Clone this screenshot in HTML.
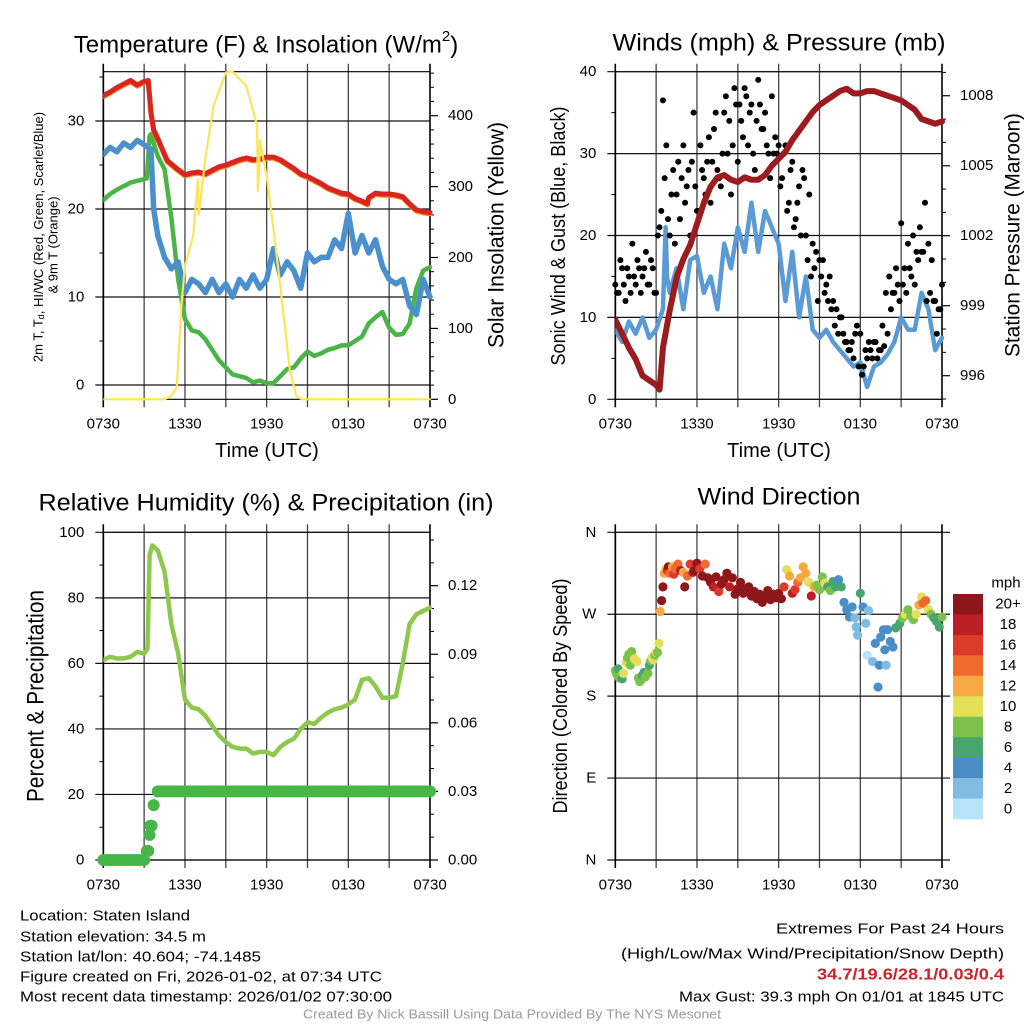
<!DOCTYPE html>
<html><head><meta charset="utf-8">
<style>
html,body{margin:0;padding:0;background:#fff;}
svg{display:block;font-family:"Liberation Sans",Arial,sans-serif;}
</style></head>
<body>
<svg id="fig" width="1024" height="1024" viewBox="0 0 1024 1024"></svg>
<script>
// ---------- DATA (hours since 0730 UTC) ----------
const timeTickHours = [0,3,6,9,12,15,18,21,24];
const timeTickLabels = ['0730','','1330','','1930','','0130','','0730'];

const tempT = [0,0.5,1,1.5,2,2.5,3,3.3,3.5,3.7,4,4.2,4.7,5.4,6,6.5,7,7.5,8,8.5,9,9.5,10,10.5,11,11.5,12,12.5,13,13.5,14,14.5,15,15.5,16,16.5,17,17.5,18,18.5,19,19.4,19.5,20,20.5,21,21.5,22,22.5,23,23.5,24];
const tempV = [32.9,33.3,33.8,34.2,34.6,34.1,34.5,34.6,31,29,28,27.3,25.5,24.6,23.9,24.1,24.2,24,24.4,24.8,25,25.3,25.6,25.8,25.6,25.7,25.9,25.9,25.6,25.1,24.6,24.0,23.7,23.3,22.9,22.4,22.1,21.8,21.7,21.2,20.9,20.6,21.3,21.8,21.7,21.7,21.6,21.4,20.6,19.9,19.7,19.6];

const dewT = [0,0.5,1,1.5,2,2.5,3,3.2,3.4,3.5,4,4.5,5,5.5,6,6.5,7,7.5,8,8.5,9,9.5,10,10.5,11,11.5,12,12.5,13,13.5,14,14.5,15,15.5,16,16.5,17,17.5,18,18.5,19,19.5,20,20.5,21,21.5,22,22.5,23,23.5,24];
const dewV = [21,21.7,22.2,22.6,23,23.2,23.4,23.5,28.3,28.5,26,24.5,19,12,7.5,6.2,6,5.2,4,2.8,2,1.2,1,0.8,0.3,0.5,0.2,0.2,1,1.8,2,3,3.8,3.3,3.6,4,4.2,4.5,4.5,5,5.5,7,7.7,8.3,6.5,5.7,5.8,7,11,13,13.4];

const wcT = [0,0.5,1,1.5,2,2.5,3,3.5,3.7,4,4.5,5,5.5,6,6.5,7,7.5,8,8.5,9,9.5,10,10.5,11,11.5,12,12.5,13,13.5,14,14.5,15,15.5,16,16.5,17,17.5,18,18.5,19,19.5,20,20.5,21,21.5,22,22.5,23,23.5,24];
const wcV = [26.2,27,26.5,27.5,27,27.8,27.3,26.8,20,17,14.5,13.2,14,10.5,12,11.5,10.5,12,10.5,11.5,10,12,11,12.5,11,12,15.5,12.5,14,13,11,15,14,14.5,14.5,16.5,15.5,19.5,15,17,15,16.5,13.5,12,11.5,12,9,8,12,10];

const solT = [0,4.5,5,5.4,5.75,6,6.6,6.95,7.0,7.05,7.5,8.1,9,9.5,10,10.5,11.3,11.35,11.45,11.5,12,12.5,13,13.7,14.2,14.6,24];
const solV = [0,0,5,18,136,188,230,310,260,265,340,414,461,462,452,442,386,294,320,365,315,240,160,41,4,0,0];

const windT = [0,0.5,1,1.5,2,2.5,3,3.5,3.7,3.8,4,4.5,5,5.5,6,6.5,7,7.5,8,8.5,9,9.5,10,10.5,11,11.5,12,12.5,13,13.5,14,14.5,15,15.5,16,16.5,17,17.5,18,18.5,19,19.5,20,20.5,21,21.5,22,22.5,23,23.5,24];
const windV = [8.5,7,9.5,8,10,7.5,8.5,11,21,15,13,16,11,17,17.5,13,15,11,19,16,21,18,24,18,23,21,19,12,18,10,15,8.5,7.5,8.5,7,6,5,4,4.5,1.5,4,4.5,5.5,7,10,8.5,8.5,13,11,6,7.5];

const gustA = [14,13,16,12,15,19,14,16,15,18,14,16,13,
 21,36.5,31,20,28,25,22,31,26,20,35,23,
 31,27,29,24,33,28,26,35,30,25,38,29,
 34,38,31,36,28,39,33,35,30,37,32,31,
 27,31,24,29,22,26,28,20,25,19,18,17,
 17,14,15,12,11,10,8,7,6,5,9,8,
 4,5,6,7,5,6,6.5,8,11,13,14,21.5,
 16,19,15,14,17,18,24,19,17,12,11,14];
const gustB = [13,17,14,16,13,15,17,13,16,14,17,13,
 20,23,27,22,25,19,29,27,24,28,29,26,
 23,28,25,32,29,35,27,30,37,34,31,36,
 36,32,37,35,30,34,36,33,31,27,30,30,
 26,30,23,28,21,24,20,27,17,15,16,12,
 15,13,12,11,9,8,10,7,6,7,8,4,
 3,6,7,5,7,6,9,13,15,13,16,12,
 14,13,16,20,18,21,18,12,13,12,8,11];

const presT = [0,0.5,1,1.5,2,2.5,3,3.25,3.5,4,4.5,5,5.5,6,6.5,7,7.5,8,8.5,9,9.5,10,10.5,11,11.5,12,12.5,13,13.5,14,14.5,15,15.5,16,16.5,17,17.5,18,18.5,19,19.5,20,20.5,21,21.5,22,22.5,23,23.5,24];
const presV = [998.4,997.8,997.2,996.7,996.0,995.8,995.6,995.4,997.2,998.8,1000.2,1001.0,1001.6,1002.5,1003.4,1004.1,1004.5,1004.6,1004.4,1004.3,1004.5,1004.4,1004.4,1004.6,1005.0,1005.3,1005.6,1006.1,1006.5,1006.9,1007.3,1007.6,1007.8,1008.0,1008.2,1008.3,1008.1,1008.1,1008.2,1008.2,1008.1,1008.0,1007.9,1007.8,1007.6,1007.4,1007.0,1006.9,1006.8,1006.9];

const rhT = [0,0.5,1,1.5,2,2.5,3,3.25,3.4,3.6,4,4.5,5,5.5,6,6.5,7,7.5,8,8.5,9,9.5,10,10.5,11,11.5,12,12.5,13,13.5,14,14.5,15,15.5,16,16.5,17,17.5,18,18.5,19,19.5,20,20.5,21,21.5,22,22.5,23,23.5,24];
const rhV = [61,62,61.5,61.5,62,63.5,63,64.5,93,96,94.5,88,72,63,49,46.5,46,44,41,38,36,34.5,34,34,32.5,33,33,32,34.5,36,37,40,42,41.5,43.5,45,46,46.5,47.5,49,55,55.5,53,49.5,49.5,50,60,72,75,76,77];

const precipT = [...Array.from({length:13},(_, i)=>i*0.25),3.2,3.3,3.4,3.45,3.55,3.7,...Array.from({length:81},(_, i)=>4+i*0.25)];
const precipV = [0,0,0,0,0,0,0,0,0,0,0,0,0,
 0.004,0.004,0.011,0.015,0.015,0.024,
 0.03,0.03,0.03,0.03,0.03,0.03,0.03,0.03,0.03,0.03,0.03,0.03,0.03,0.03,0.03,0.03,0.03,0.03,0.03,0.03,
 0.03,0.03,0.03,0.03,0.03,0.03,0.03,0.03,0.03,0.03,0.03,0.03,0.03,0.03,0.03,0.03,0.03,0.03,0.03,0.03,
 0.03,0.03,0.03,0.03,0.03,0.03,0.03,0.03,0.03,0.03,0.03,0.03,0.03,0.03,0.03,0.03,0.03,0.03,0.03,0.03,
 0.03,0.03,0.03,0.03,0.03,0.03,0.03,0.03,0.03,0.03,0.03,0.03,0.03,0.03,0.03,0.03,0.03,0.03,0.03,0.03,0.03];

const dirT = [0,0.1,0.2,0.3,0.4,0.5,0.6,0.8,0.9,1.0,1.1,1.2,1.3,1.4,1.6,1.7,1.8,1.9,2.0,2.1,2.2,2.4,2.5,2.6,2.7,2.8,2.9,3.0,
 3.1,3.2,3.3,3.4,3.5,3.6,3.7,3.8,3.9,4.0,4.2,4.3,4.4,4.6,4.8,5.0,5.1,5.3,5.5,5.7,5.8,6.0,
 6.2,6.4,6.6,6.8,7.0,7.2,7.4,7.6,7.8,8.0,8.2,8.4,8.6,8.8,9.0,9.2,9.4,9.6,9.8,10.0,10.2,10.4,10.6,10.8,11.0,11.2,11.4,11.6,11.8,12.0,
 12.2,12.4,12.6,12.8,13.0,13.2,13.4,13.6,13.8,14.0,14.2,14.4,
 14.6,14.8,15.0,15.2,15.4,15.6,15.8,16.0,16.2,
 16.4,16.6,16.8,17.0,17.2,17.4,17.6,17.7,17.8,18.0,18.2,18.4,18.6,
 18.5,18.9,19.1,19.3,19.4,19.5,19.7,19.8,19.9,20.0,20.2,20.4,20.6,20.9,
 21.1,21.3,21.5,21.7,21.9,22.1,22.3,22.5,22.6,22.8,23.0,23.2,23.4,23.6,23.8,24.0];
const dirV = [208,204,210,200,203,199,205,217,222,226,214,229,219,221,218,200,196,198,203,206,201,205,214,219,222,220,225,228,
 228,238,273,285,300,315,320,318,322,315,322,314,320,325,318,316,300,312,325,316,318,326,
 320,312,325,310,305,300,311,295,303,308,315,300,310,292,298,305,293,298,300,290,295,287,292,283,290,296,286,292,288,293,
 287,300,319,312,293,297,305,310,322,315,305,290,
 300,302,297,311,304,300,296,306,300,
 308,300,283,275,267,278,266,256,247,293,278,260,274,
 225,218,238,190,214,245,253,231,214,253,240,234,255,260,
 266,270,275,268,264,270,280,289,282,285,275,270,266,262,256,267];
const dirS = [8,7,6,8,8,6,10,10,8,8,8,8,7,9,10,8,8,8,6,6,8,8,6,8,10,10,8,9,
 8,9,12,20,20,12,10,16,20,14,12,16,14,14,18,12,20,14,16,18,20,20,
 16,20,14,20,20,18,20,16,20,20,20,18,20,22,20,20,20,20,20,20,20,20,20,22,20,20,20,20,20,20,
 20,16,10,12,18,16,14,12,12,12,10,18,
 12,8,8,8,10,6,8,6,6,
 4,6,4,4,4,4,2,2,2,6,4,2,2,
 0,2,4,4,4,4,4,4,2,4,4,4,6,6,
 8,10,8,8,8,10,12,10,14,14,10,8,6,6,6,8];

const speedBins = [0,2,4,6,8,10,12,14,16,18,20];
const speedLabels = ['0','2','4','6','8','10','12','14','16','18','20+'];
const speedColors = ['#b5e3f8','#80bbe4','#4b8ec6','#48a570','#7cc14c','#e3df56','#f5a843','#ee6a2e','#dc3a2a','#bb1e25','#8f161a'];

// ---------- helpers ----------
const NS='http://www.w3.org/2000/svg';
const svg=document.getElementById('fig');
function mk(tag,parent){const e=document.createElementNS(NS,tag);parent.appendChild(e);return e;}
function line(p,x1,y1,x2,y2,stroke,w){const l=mk('line',p);l.setAttribute('x1',x1);l.setAttribute('y1',y1);l.setAttribute('x2',x2);l.setAttribute('y2',y2);l.setAttribute('stroke',stroke);l.setAttribute('stroke-width',w);return l;}
function text(p,x,y,s,size,anchor,fill){const t=mk('text',p);t.setAttribute('x',x);t.setAttribute('y',y);t.setAttribute('font-size',size);t.setAttribute('text-anchor',anchor||'start');t.setAttribute('dominant-baseline','central');t.setAttribute('fill',fill||'#000');t.textContent=s;return t;}

const P1={x0:103.3,x1:430,top:71.7,bot:399.3};
const P2={x0:615.3,x1:942,top:71.7,bot:399.3};
const P3={x0:103.3,x1:430,top:532.3,bot:860};
const P4={x0:615.3,x1:942,top:532.3,bot:860};
function xT(P,h){return P.x0+h/24*(P.x1-P.x0);}
const y1L=v=>385-v*8.8, y1R=v=>399.3-v*0.709;
const y2L=v=>399.3-v*8.19, y2R=p=>375.7-(p-996)*23.33;
const y3L=v=>860-v*3.277, y3R=p=>860-p*2286;
const y4=d=>860-d*0.9103;

function timeAxis(P,g,labelY){
  timeTickHours.forEach((h,i)=>{
    const x=xT(P,h);
    const l=line(g,x,P.top-8,x,P.bot+8,(i===0||i===8)?'#000':'#444',(i===0||i===8)?1.6:1.3);
    
    
    if(timeTickLabels[i]){
      const t=text(g,x,labelY,timeTickLabels[i],15,'middle');
      
      
    }
  });
  const tl=line(g,P.x0,P.top,P.x1,P.top,'#000',1.2);
  
  
  const bl=line(g,P.x0,P.bot,P.x1,P.bot,'#000',1.2);
  
  
}
function leftAxis(P,g,vals,labels,fn,minor,gridRight){
  vals.forEach((v,i)=>{const y=fn(v);
    const l=line(g,P.x0-8,y,gridRight||P.x1,y,'#111',1.2);
    
    
    const t=text(g,P.x0-19,y,labels[i],15,'end');
    
    
  });
  minor.forEach(v=>{const y=fn(v);const l=line(g,P.x0-4,y,P.x0,y,'#000',1);
    
    });
}
function rightAxis(P,g,vals,labels,fn,minor){
  vals.forEach((v,i)=>{const y=fn(v);
    const l=line(g,P.x1,y,P.x1+8,y,'#000',1.2);
    
    
    const t=text(g,P.x1+18,y,labels[i],15,'start');
    
    
  });
  minor.forEach(v=>{const y=fn(v);const l=line(g,P.x1,y,P.x1+4,y,'#000',1);
    
    });
}
function pathFrom(P,ts,vs,fn){return ts.map((t,i)=>(i?'L':'M')+xT(P,t).toFixed(2)+','+fn(vs[i]).toFixed(2)).join('');}
function series(g,P,ts,vs,fn,color,w,name,clip){
  const p=mk('path',g);p.setAttribute('d',pathFrom(P,ts,vs,fn));p.setAttribute('fill','none');
  p.setAttribute('stroke',color);p.setAttribute('stroke-width',w);p.setAttribute('stroke-linejoin','round');p.setAttribute('stroke-linecap','round');
  if(clip)p.setAttribute('clip-path','url(#'+clip+')');
  
  
  return p;
}
function rotText(g,x,y,s,size,len){const t=text(g,0,0,s,size,'middle');t.setAttribute('transform','translate('+x+','+y+') rotate(-90)');if(len){t.setAttribute('textLength',len);t.setAttribute('lengthAdjust','spacingAndGlyphs');}return t;}

const defs=mk('defs',svg);
[['c1',P1],['c2',P2],['c3',P3],['c4',P4]].forEach(([id,P])=>{const c=mk('clipPath',defs);c.setAttribute('id',id);const r=mk('rect',c);r.setAttribute('x',P.x0);r.setAttribute('y',P.top-4);r.setAttribute('width',P.x1-P.x0+4);r.setAttribute('height',P.bot-P.top+8);});

// ---------- PANEL 1 ----------
const g1=mk('g',svg);


{
  const t=text(g1,266,45,'',24,'middle');
  t.innerHTML='Temperature (F) &amp; Insolation (W/m<tspan font-size="15" dy="-9">2</tspan><tspan dy="9">)</tspan>';
  
  
  timeAxis(P1,g1,424);
  leftAxis(P1,g1,[0,10,20,30],['0','10','20','30'],y1L,[5,15,25,35]);
  rightAxis(P1,g1,[0,100,200,300,400],['0','100','200','300','400'],y1R,[20,40,60,80,120,140,160,180,220,240,260,280,320,340,360,380,420,440,460]);
  const xt=text(g1,267,451,'Time (UTC)',20,'middle');
  
  
  const yl=text(g1,0,0,'',13,'middle');
  yl.setAttribute('transform','translate(38,237) rotate(-90)');
  yl.innerHTML='2m T, T<tspan font-size="9" dy="3">d</tspan><tspan dy="-3">, HI/WC (Red, Green, Scarlet/Blue)</tspan>';
  
  
  const yl2=rotText(g1,53,245,'& 9m T (Orange)',13);
  
  
  const yr=rotText(g1,496,235,'Solar Insolation (Yellow)',22,226);
  
  
  const axL=line(g1,P1.x0,P1.top,P1.x0,P1.bot,'#000',1.6);
  
  
  series(g1,P1,dewT,dewV,y1L,'#4bb447',4.5,'dewpoint-line','c1');
  series(g1,P1,wcT,wcV,y1L,'#4a90cd',5.5,'windchill-line','c1');
  series(g1,P1,tempT,tempV,y1L,'#f08a2a',5,'temp-9m-line','c1').setAttribute('transform','translate(0,1.2)');
  series(g1,P1,tempT,tempV,y1L,'#d9241f',5,'temperature-line','c1');
  series(g1,P1,solT,solV,y1R,'#fde55a',2.2,'insolation-line','c1');
}

// ---------- PANEL 2 ----------
const g2=mk('g',svg);


{
  const t=text(g2,779,43,'Winds (mph) & Pressure (mb)',24,'middle');
  t.setAttribute('textLength',333);t.setAttribute('lengthAdjust','spacingAndGlyphs');
  
  
  timeAxis(P2,g2,424);
  leftAxis(P2,g2,[0,10,20,30,40],['0','10','20','30','40'],y2L,[5,15,25,35]);
  const minorP=[];for(let p=995;p<=1009;p++){if((p-996)%3!==0)minorP.push(p);}
  rightAxis(P2,g2,[996,999,1002,1005,1008],['996','999','1002','1005','1008'],y2R,minorP);
  const xt=text(g2,779,451,'Time (UTC)',20,'middle');
  
  
  const yl=rotText(g2,559,236,'Sonic Wind & Gust (Blue, Black)',20,259);
  
  
  const yr=rotText(g2,1013,235,'Station Pressure (Maroon)',21,244);
  
  
  const axL=line(g2,P2.x0,P2.top,P2.x0,P2.bot,'#000',1.6);
  
  
  series(g2,P2,windT,windV,y2L,'#5b9bd5',4.5,'sonic-wind-line','c2');
  gustA.forEach((v,i)=>{const c=mk('circle',g2);c.setAttribute('cx',xT(P2,i*0.25));c.setAttribute('cy',y2L(v));c.setAttribute('r',3);c.setAttribute('fill','#000');
    
    });
  gustB.forEach((v,i)=>{const c=mk('circle',g2);c.setAttribute('cx',xT(P2,0.125+i*0.25));c.setAttribute('cy',y2L(v));c.setAttribute('r',3);c.setAttribute('fill','#000');
    
    });
  series(g2,P2,presT,presV,y2R,'#9b1b1e',6,'pressure-line','c2');
}

// ---------- PANEL 3 ----------
const g3=mk('g',svg);


{
  const t=text(g3,266,503,'Relative Humidity (%) & Precipitation (in)',24,'middle');
  t.setAttribute('textLength',455);t.setAttribute('lengthAdjust','spacingAndGlyphs');
  
  
  timeAxis(P3,g3,885);
  leftAxis(P3,g3,[0,20,40,60,80,100],['0','20','40','60','80','100'],y3L,[10,30,50,70,90]);
  rightAxis(P3,g3,[0,0.03,0.06,0.09,0.12],['0.00','0.03','0.06','0.09','0.12'],y3R,[0.01,0.02,0.04,0.05,0.07,0.08,0.1,0.11,0.13,0.14]);
  const yl=rotText(g3,36,696,'Percent & Precipitation',24,212);
  
  
  const axL=line(g3,P3.x0,P3.top,P3.x0,P3.bot,'#000',1.6);
  
  
  series(g3,P3,rhT,rhV,y3L,'#8cc84b',4.5,'humidity-line','c3');
  precipT.forEach((h,i)=>{const c=mk('circle',g3);c.setAttribute('cx',xT(P3,h));c.setAttribute('cy',y3R(precipV[i]));c.setAttribute('r',6);c.setAttribute('fill','#47b649');
    
    });
}

// ---------- PANEL 4 ----------
const g4=mk('g',svg);


{
  const t=text(g4,779,497,'Wind Direction',24,'middle');
  t.setAttribute('textLength',163);t.setAttribute('lengthAdjust','spacingAndGlyphs');
  
  
  timeAxis(P4,g4,885);
  leftAxis(P4,g4,[0,90,180,270,360],['N','E','S','W','N'],y4,[],950);
  const yl=rotText(g4,561,696,'Direction (Colored By Speed)',20,235);
  
  
  const axL=line(g4,P4.x0,P4.top,P4.x0,P4.bot,'#000',1.6);
  
  
  function colorFor(s){let k=0;for(let i=0;i<speedBins.length;i++){if(s>=speedBins[i]-1)k=i;}return speedColors[k];}
  dirT.forEach((h,i)=>{const c=mk('circle',g4);c.setAttribute('cx',xT(P4,h));c.setAttribute('cy',y4(dirV[i]));c.setAttribute('r',4.6);c.setAttribute('fill',colorFor(dirS[i]));
    
    });
  // colorbar
  const cbTop=594, cbH=225, n=speedColors.length, bh=cbH/n;
  const m=text(g4,1006,583,'mph',15,'middle');
  
  
  for(let i=0;i<n;i++){
    const k=n-1-i;
    const r=mk('rect',g4);r.setAttribute('x',953);r.setAttribute('y',cbTop+i*bh);r.setAttribute('width',30);r.setAttribute('height',bh+0.3);r.setAttribute('fill',speedColors[k]);
    
    
    const lt=text(g4,1008,cbTop+i*bh+bh/2,speedLabels[k],15,'middle');
    
    
  }
}

// ---------- FOOTER ----------
const gf=mk('g',svg);


{
  const left=[['Location: Staten Island',916,170],['Station elevation: 34.5 m',937,186],['Station lat/lon: 40.604; -74.1485',957,241],['Figure created on Fri, 2026-01-02, at 07:34 UTC',977,362],['Most recent data timestamp: 2026/01/02 07:30:00',997,372]];
  left.forEach(([s,y,w])=>{const t=text(gf,20,y,s,15,'start');t.setAttribute('textLength',w);t.setAttribute('lengthAdjust','spacingAndGlyphs');
    
    });
  const right=[['Extremes For Past 24 Hours',929,228,'#000','normal'],['(High/Low/Max Wind/Precipitation/Snow Depth)',954,383,'#000','normal'],['34.7/19.6/28.1/0.03/0.4',975,187,'#cc2229','bold'],['Max Gust: 39.3 mph On 01/01 at 1845 UTC',997,325,'#000','normal']];
  right.forEach(([s,y,w,c,fw])=>{const t=text(gf,1004,y,s,fw==='bold'?16:15,'end',c);t.setAttribute('font-weight',fw);t.setAttribute('textLength',w);t.setAttribute('lengthAdjust','spacingAndGlyphs');
    
    });
  const cr=text(gf,512,1014,'Created By Nick Bassill Using Data Provided By The NYS Mesonet',13,'middle','#999');
  cr.setAttribute('textLength',418);cr.setAttribute('lengthAdjust','spacingAndGlyphs');
  
  
}
</script>
</body></html>
